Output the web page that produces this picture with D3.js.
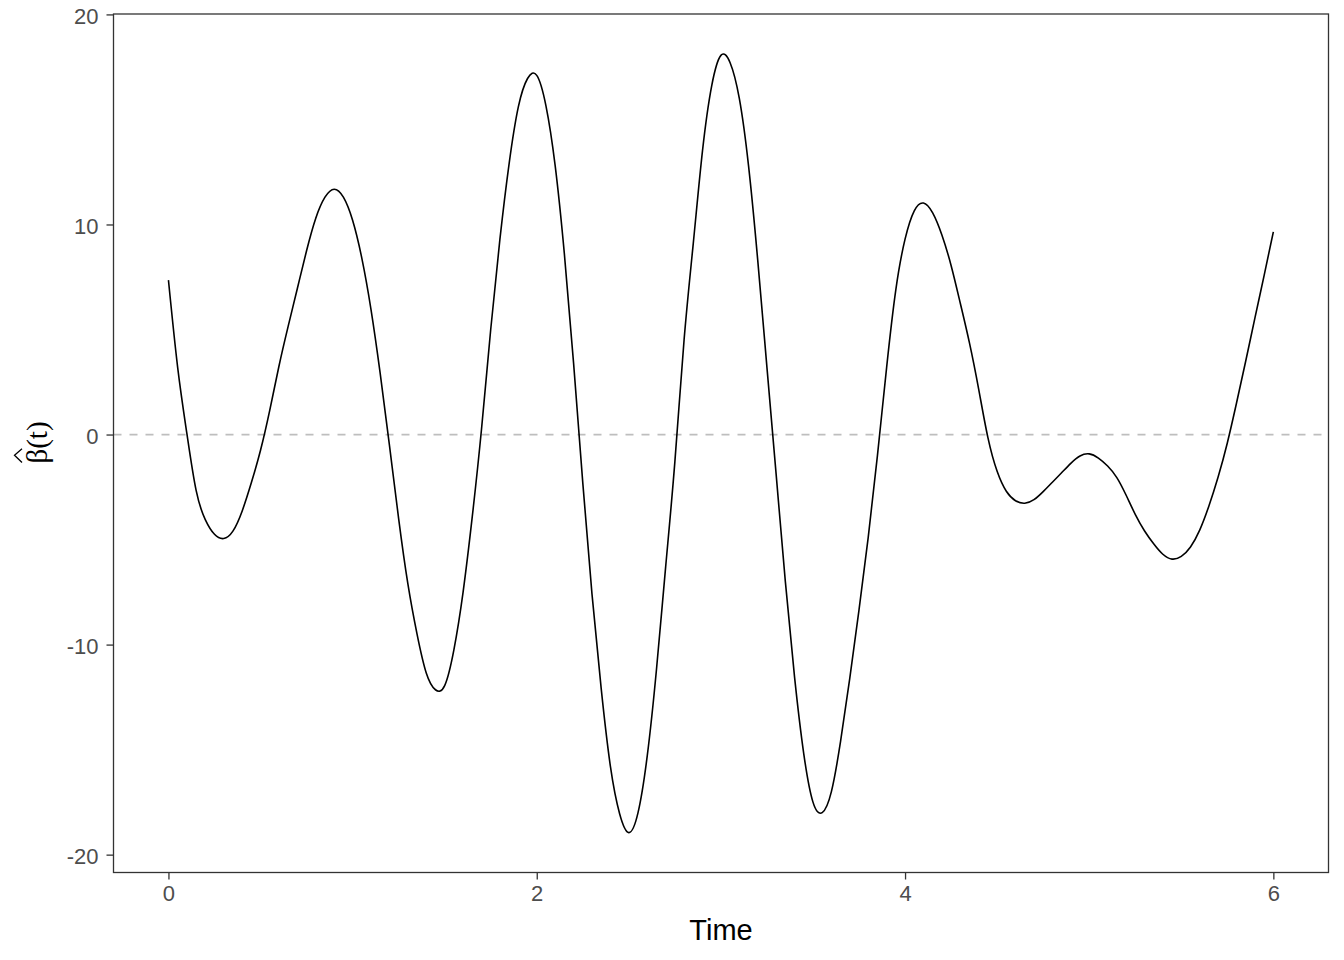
<!DOCTYPE html>
<html>
<head>
<meta charset="utf-8">
<script src="https://cdn.jsdelivr.net/npm/d3@7"></script>
<style>
  html, body { margin: 0; padding: 0; background: #fff; }
  svg { display: block; }
</style>
</head>
<body>
<svg id="chart" width="1344" height="960"></svg>
<script>
// ---- data (every 0.05 time units) ----
const time = [
  0.00, 0.05, 0.10, 0.15, 0.20, 0.25, 0.30, 0.35, 0.40, 0.45,
  0.50, 0.55, 0.60, 0.65, 0.70, 0.75, 0.80, 0.85, 0.90, 0.95,
  1.00, 1.05, 1.10, 1.15, 1.20, 1.25, 1.30, 1.35, 1.40, 1.45,
  1.50, 1.55, 1.60, 1.65, 1.70, 1.75, 1.80, 1.85, 1.90, 1.95,
  2.00, 2.05, 2.10, 2.15, 2.20, 2.25, 2.30, 2.35, 2.40, 2.45,
  2.50, 2.55, 2.60, 2.65, 2.70, 2.75, 2.80, 2.85, 2.90, 2.95,
  3.00, 3.05, 3.10, 3.15, 3.20, 3.25, 3.30, 3.35, 3.40, 3.45,
  3.50, 3.55, 3.60, 3.65, 3.70, 3.75, 3.80, 3.85, 3.90, 3.95,
  4.00, 4.05, 4.10, 4.15, 4.20, 4.25, 4.30, 4.35, 4.40, 4.45,
  4.50, 4.55, 4.60, 4.65, 4.70, 4.75, 4.80, 4.85, 4.90, 4.95,
  5.00, 5.05, 5.10, 5.15, 5.20, 5.25, 5.30, 5.35, 5.40, 5.45,
  5.50, 5.55, 5.60, 5.65, 5.70, 5.75, 5.80, 5.85, 5.90, 5.95,
  6.00
];
const beta = [
  7.35, 3.2, 0.05, -2.65, -4.05, -4.75, -4.95, -4.6, -3.65, -2.3,
  -0.75, 1.15, 3.25, 5.15, 6.95, 8.75, 10.3, 11.3, 11.68, 11.3,
  10.2, 8.4, 5.95, 2.9, -0.5, -4.0, -7.1, -9.5, -11.35, -12.15,
  -11.95, -10.25, -7.5, -3.9, 0.25, 5.0, 9.3, 12.9, 15.6, 16.95,
  17.1, 15.65, 12.8, 8.6, 3.4, -2.3, -7.6, -12.1, -15.8, -18.05,
  -18.95, -18.0, -15.3, -11.2, -6.3, -1.3, 4.5, 9.1, 13.5, 16.6,
  18.05, 17.7, 16.0, 12.8, 8.3, 3.2, -1.9, -7.0, -11.55, -15.2,
  -17.5, -18.0, -17.0, -14.6, -11.6, -8.35, -4.9, -1.0, 3.2, 6.9,
  9.3, 10.65, 11.02, 10.55, 9.5, 8.05, 6.25, 4.35, 2.15, -0.15,
  -1.75, -2.7, -3.15, -3.27, -3.1, -2.72, -2.27, -1.82, -1.37, -1.02,
  -0.92, -1.12, -1.5, -2.05, -2.88, -3.8, -4.58, -5.2, -5.7, -5.93,
  -5.8, -5.35, -4.55, -3.4, -2.02, -0.4, 1.5, 3.5, 5.55, 7.58,
  9.65
];
const xTicks = [0, 2, 4, 6];
const yTicks = [-20, -10, 0, 10, 20];
const refLine = [0];

// ---- layout ----
const svg = d3.select("#chart");
const panel = { left: 113.5, right: 1328.5, top: 14, bottom: 872.5 };

const x = d3.scaleLinear().domain([-0.3, 6.3]).range([113.2, 1328.6]);
const y = d3.scaleLinear().domain([-20.85, 20.02]).range([872.5, 14]);

const axisColor = "#333333";
const tickLabelColor = "#4d4d4d";

// dashed reference line
svg.selectAll("line.ref").data(refLine).enter().append("line")
  .attr("class", "ref")
  .attr("x1", panel.left).attr("x2", panel.right)
  .attr("y1", d => y(d)).attr("y2", d => y(d))
  .attr("stroke", "#bebebe").attr("stroke-width", 1.8)
  .attr("stroke-dasharray", "8,8");

// curve
const pts = time.map((t, i) => ({ t, v: beta[i] }));
const line = d3.line().x(d => x(d.t)).y(d => y(d.v)).curve(d3.curveNatural);
svg.append("path").datum(pts)
  .attr("d", line)
  .attr("fill", "none")
  .attr("stroke", "#000")
  .attr("stroke-width", 1.6)
  .attr("stroke-linejoin", "round");

// panel border
svg.append("rect")
  .attr("x", panel.left).attr("y", panel.top)
  .attr("width", panel.right - panel.left).attr("height", panel.bottom - panel.top)
  .attr("fill", "none").attr("stroke", axisColor).attr("stroke-width", 1.3);

const fmt = d => String(d); // plain hyphen-minus like the reference

// x axis
const xAxis = d3.axisBottom(x).tickValues(xTicks).tickSize(7).tickPadding(6).tickFormat(fmt);
const gx = svg.append("g").attr("transform", `translate(0,${panel.bottom})`).call(xAxis);
gx.select(".domain").remove();
gx.selectAll(".tick line").attr("stroke", axisColor).attr("stroke-width", 1.3);
gx.selectAll(".tick text")
  .attr("fill", tickLabelColor)
  .style("font-family", "'Liberation Sans', Arial, sans-serif")
  .style("font-size", "22px");

// y axis
const yAxis = d3.axisLeft(y).tickValues(yTicks).tickSize(7).tickPadding(8).tickFormat(fmt);
const gy = svg.append("g").attr("transform", `translate(${panel.left},0)`).call(yAxis);
gy.select(".domain").remove();
gy.selectAll(".tick line").attr("stroke", axisColor).attr("stroke-width", 1.3);
gy.selectAll(".tick text")
  .attr("fill", tickLabelColor)
  .attr("dy", "0.42em")
  .style("font-family", "'Liberation Sans', Arial, sans-serif")
  .style("font-size", "22px");

// x title
svg.append("text")
  .attr("x", (panel.left + panel.right) / 2)
  .attr("y", 940)
  .attr("text-anchor", "middle")
  .attr("fill", "#000")
  .style("font-family", "'Liberation Sans', Arial, sans-serif")
  .style("font-size", "29px")
  .text("Time");

// y title: beta-hat(t)
const gyt = svg.append("g").attr("transform", "translate(47,442.5) rotate(-90)");
const yt = gyt.append("text")
  .attr("x", 0).attr("y", 0)
  .attr("text-anchor", "middle")
  .attr("fill", "#000")
  .style("font-family", "'Liberation Serif', 'Times New Roman', serif")
  .style("font-size", "29px")
  .text("β(t)");
const total = yt.node().getComputedTextLength();
const bw = yt.node().getSubStringLength(0, 1);
const x0 = -total / 2;
gyt.append("path")
  .attr("d", `M${x0 + 1},-25 L${x0 + bw / 2 + 1},-32.5 L${x0 + bw},-25`)
  .attr("fill", "none").attr("stroke", "#000").attr("stroke-width", 1.3);
</script>
</body>
</html>
